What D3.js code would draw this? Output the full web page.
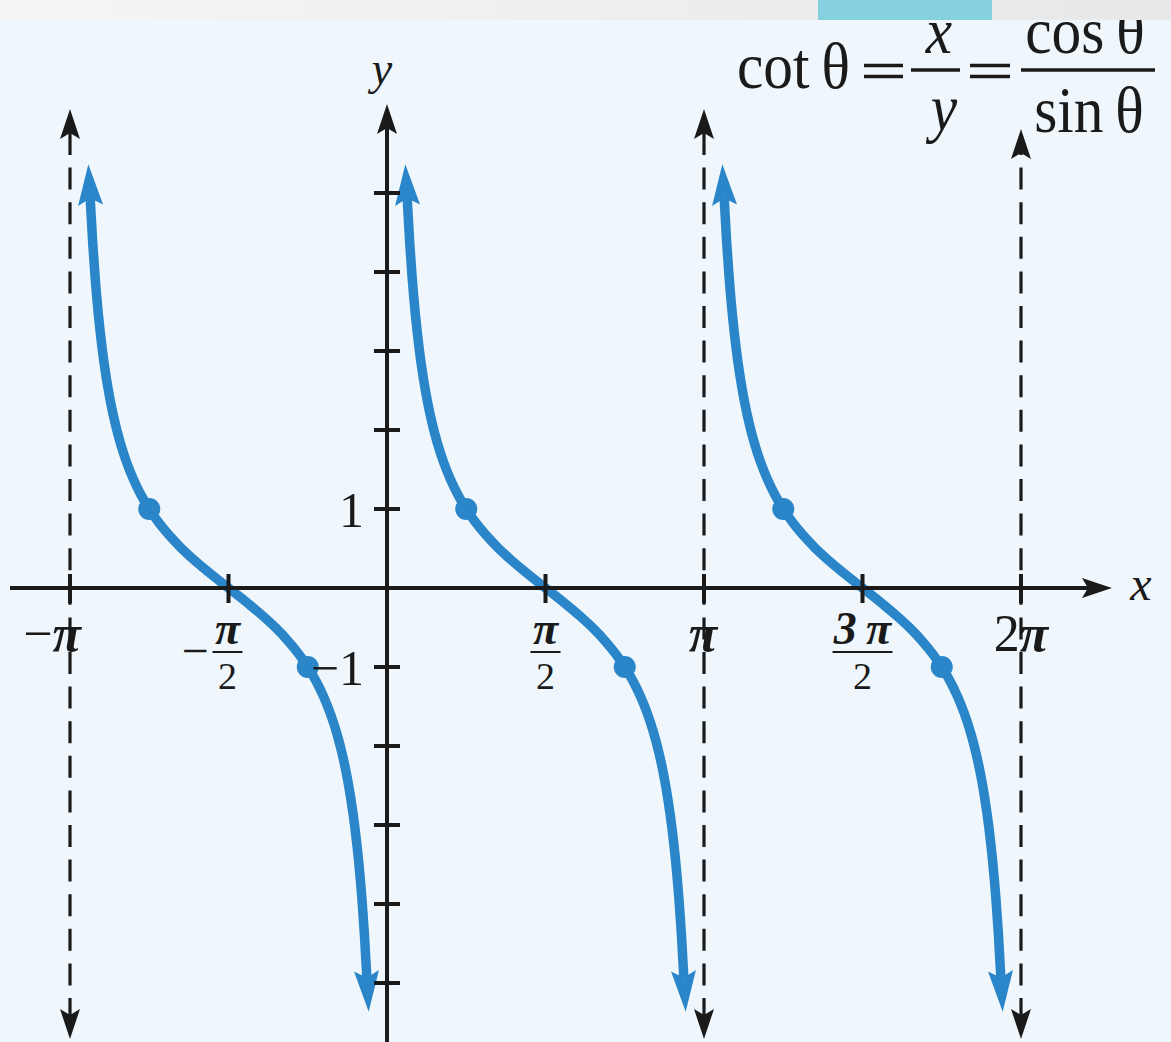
<!DOCTYPE html>
<html>
<head>
<meta charset="utf-8">
<script src="https://cdn.jsdelivr.net/npm/d3@7"></script>
<style>
  html, body { margin: 0; padding: 0; background: #eff7fc; }
  svg { display: block; }
  text { font-family: "Liberation Serif", "Times New Roman", serif; fill: #1a1a1a; }
</style>
</head>
<body>
<script>
// Graph of y = cot θ over three periods, −π … 2π
const PI = Math.PI;

// branch start angles (each branch spans one period between asymptotes)
const branchStarts = [-PI, 0, PI];

// sampled angle offsets within one branch (radians) and the cot values read at them
const thetaOffsets = [0.200, 0.225, 0.250, 0.280, 0.320, 0.360, 0.400, 0.450, 0.500, 0.560, 0.630, 0.700, 0.785, 0.880, 0.980, 1.100, 1.230, 1.370, 1.571,
                      1.772, 1.912, 2.042, 2.162, 2.262, 2.357, 2.442, 2.512, 2.582, 2.642, 2.692, 2.742, 2.782, 2.822, 2.862, 2.892, 2.917, 2.942];
const cotValues = [4.933, 4.369, 3.916, 3.477, 3.017, 2.657, 2.365, 2.070, 1.830, 1.595, 1.372, 1.187, 1.000, 0.827, 0.671, 0.509, 0.355, 0.204, 0.000,
                   -0.204, -0.355, -0.509, -0.671, -0.827, -1.000, -1.187, -1.372, -1.595, -1.830, -2.070, -2.365, -2.657, -3.017, -3.477, -3.916, -4.369, -4.933];

// highlighted points per branch: offsets π/4 and 3π/4
const markOffsets = [PI / 4, 3 * PI / 4];
const markValues = [1, -1];

// asymptotes drawn as dashed lines
const asymptotes = [-PI, PI, 2 * PI];

// x-axis ticks
const xTickValues = [-PI, -PI / 2, PI / 2, PI, 3 * PI / 2, 2 * PI];
const xTickLabels = [
  { pre: "\u2212", num: "\u03c0", den: null },
  { pre: "\u2212", num: "\u03c0", den: "2" },
  { pre: "", num: "\u03c0", den: "2" },
  { pre: "", num: "\u03c0", den: null },
  { pre: "", num: "3\u2009\u03c0", den: "2" },
  { pre: "2", num: "\u03c0", den: null }
];

// y-axis ticks
const yTickValues = [-5, -4, -3, -2, -1, 1, 2, 3, 4, 5];
const yTickLabels = { "1": "1", "-1": "\u22121" };

const W = 1171, H = 1042;
const BLUE = "#2a86c9", INK = "#1a1a1a";

const svg = d3.select("body").append("svg").attr("width", W).attr("height", H);

// page background
const defs = svg.append("defs");
const hdr = defs.append("linearGradient").attr("id", "hdr").attr("x1", 0).attr("x2", 1);
hdr.append("stop").attr("offset", 0).attr("stop-color", "#f5f5f5");
hdr.append("stop").attr("offset", 1).attr("stop-color", "#e8e8e8");
svg.append("rect").attr("width", W).attr("height", H).attr("fill", "#eff7fc");

// arrowhead markers
function arrowMarker(id, color, len, half, back) {
  defs.append("marker")
    .attr("id", id)
    .attr("markerUnits", "userSpaceOnUse")
    .attr("viewBox", `${-back - 2} ${-half - 2} ${len + back + 4} ${2 * half + 4}`)
    .attr("refX", 0).attr("refY", 0)
    .attr("markerWidth", len + back + 4).attr("markerHeight", 2 * half + 4)
    .attr("orient", "auto-start-reverse")
    .append("path")
    .attr("d", `M${len},0 L${-back},${-half} L0,0 L${-back},${half} Z`)
    .attr("fill", color);
}
arrowMarker("arrBlue", BLUE, 34, 12.5, 7);
arrowMarker("arrInk", INK, 24, 10, 6);

const x = d3.scaleLinear().domain([-PI, 2 * PI]).range([70, 1021]);
const y = d3.scaleLinear().domain([0, 1]).range([588, 509]);

// dashed asymptotes
const dashPeriod = 34.6, dashAnchor = 98.4;
const asymTop = { [-PI]: 109, [PI]: 109, [2 * PI]: 129 };
asymptotes.forEach(a => {
  const top = asymTop[a] + 24, bottom = 1039 - 24;
  svg.append("path")
    .attr("d", `M${x(a)},${top} L${x(a)},${bottom}`)
    .attr("stroke", INK).attr("stroke-width", 3.2)
    .attr("stroke-dasharray", "22,12.6")
    .attr("stroke-dashoffset", ((top - dashAnchor) % dashPeriod))
    .attr("fill", "none")
    .attr("marker-start", "url(#arrInk)")
    .attr("marker-end", "url(#arrInk)");
});

// cotangent branches
const line = d3.line().x(d => x(d[0])).y(d => y(d[1])).curve(d3.curveMonotoneX);
branchStarts.forEach(s => {
  const pts = thetaOffsets.map((t, i) => [s + t, cotValues[i]]);
  svg.append("path")
    .attr("d", line(pts))
    .attr("fill", "none")
    .attr("stroke", BLUE).attr("stroke-width", 9.5)
    .attr("marker-start", "url(#arrBlue)")
    .attr("marker-end", "url(#arrBlue)");
});

// axes
svg.append("path")
  .attr("d", `M10,${y(0)} L${1112 - 24},${y(0)}`)
  .attr("stroke", INK).attr("stroke-width", 4).attr("fill", "none")
  .attr("marker-end", "url(#arrInk)");
svg.append("path")
  .attr("d", `M${x(0)},${H + 5} L${x(0)},${104 + 24}`)
  .attr("stroke", INK).attr("stroke-width", 4).attr("fill", "none")
  .attr("marker-end", "url(#arrInk)");

// tick marks
svg.append("g").selectAll("line").data(xTickValues).join("line")
  .attr("x1", d => x(d)).attr("x2", d => x(d))
  .attr("y1", y(0) - 14).attr("y2", y(0) + 15)
  .attr("stroke", INK).attr("stroke-width", 4);
svg.append("g").selectAll("line").data(yTickValues).join("line")
  .attr("x1", x(0) - 13).attr("x2", x(0) + 13)
  .attr("y1", d => y(d)).attr("y2", d => y(d))
  .attr("stroke", INK).attr("stroke-width", 4);

// highlighted points
branchStarts.forEach(s => {
  markOffsets.forEach((t, i) => {
    svg.append("circle")
      .attr("cx", x(s + t)).attr("cy", y(markValues[i]))
      .attr("r", 11).attr("fill", BLUE);
  });
});

// x tick labels
xTickValues.forEach((v, i) => {
  const lab = xTickLabels[i];
  const cx = x(v);
  if (lab.den === null) {
    const t = svg.append("text")
      .attr("y", 651)
      .attr("font-size", 52);
    if (lab.pre) t.append("tspan").text(lab.pre);
    t.append("tspan").attr("font-style", "italic").attr("font-weight", "bold").text(lab.num);
    if (lab.pre === "\u2212") t.attr("text-anchor", "end").attr("x", cx + 11);
    if (lab.pre === "2") t.attr("text-anchor", "middle").attr("x", cx);
    if (lab.pre === "") t.attr("text-anchor", "middle").attr("x", cx - 1);
  } else {
    const fx = lab.pre ? cx - 1 : cx;
    const bw = lab.num.length > 1 ? 30 : 15;
    svg.append("text").attr("x", fx).attr("y", 644)
      .attr("text-anchor", "middle").attr("font-size", 46)
      .attr("font-style", "italic").attr("font-weight", "bold").text(lab.num);
    svg.append("line")
      .attr("x1", fx - bw).attr("x2", fx + bw)
      .attr("y1", 652).attr("y2", 652)
      .attr("stroke", INK).attr("stroke-width", 2);
    svg.append("text").attr("x", fx).attr("y", 689)
      .attr("text-anchor", "middle").attr("font-size", 38).text(lab.den);
    if (lab.pre) {
      svg.append("text").attr("x", fx - bw - 4).attr("y", 667)
        .attr("text-anchor", "end").attr("font-size", 48).text(lab.pre);
    }
  }
});

// y tick labels
Object.keys(yTickLabels).forEach(k => {
  svg.append("text")
    .attr("x", x(0) - 23).attr("y", y(+k) + 18)
    .attr("text-anchor", "end").attr("font-size", 50)
    .text(yTickLabels[k]);
});

// axis names
svg.append("text").attr("x", 382).attr("y", 84).attr("text-anchor", "middle")
  .attr("font-size", 46).attr("font-style", "italic").text("y");
svg.append("text").attr("x", 1141).attr("y", 600).attr("text-anchor", "middle")
  .attr("font-size", 48).attr("font-style", "italic").text("x");

// definition of the cotangent
const f = svg.append("g").attr("class", "formula");
const fs = 66, sx = 0.9;
function ftext(px, py, str, anchor, italic) {
  f.append("text")
    .attr("transform", `translate(${px},${py}) scale(${sx},1)`)
    .attr("text-anchor", anchor)
    .attr("font-size", fs)
    .attr("font-style", italic ? "italic" : "normal")
    .text(str);
}
function equals(x1, x2) {
  [65.5, 76.5].forEach(yy => f.append("line")
    .attr("x1", x1).attr("x2", x2).attr("y1", yy).attr("y2", yy)
    .attr("stroke", INK).attr("stroke-width", 3.5));
}
ftext(737, 88, "cot\u2009\u03b8", "start", false);
equals(864, 903);
f.append("line").attr("x1", 911).attr("x2", 960).attr("y1", 70).attr("y2", 70)
  .attr("stroke", INK).attr("stroke-width", 3.5);
ftext(939, 53, "x", "middle", true);
ftext(944, 130, "y", "middle", true);
equals(970, 1010);
f.append("line").attr("x1", 1021).attr("x2", 1155).attr("y1", 70).attr("y2", 70)
  .attr("stroke", INK).attr("stroke-width", 3.5);
ftext(1085, 53, "cos\u2009\u03b8", "middle", false);
ftext(1089, 132, "sin\u2009\u03b8", "middle", false);

// header strip along the top edge
svg.append("rect").attr("width", W).attr("height", 20).attr("fill", "url(#hdr)");
svg.append("rect").attr("x", 818).attr("width", 174).attr("height", 20).attr("fill", "#86d1df");
</script>
</body>
</html>
